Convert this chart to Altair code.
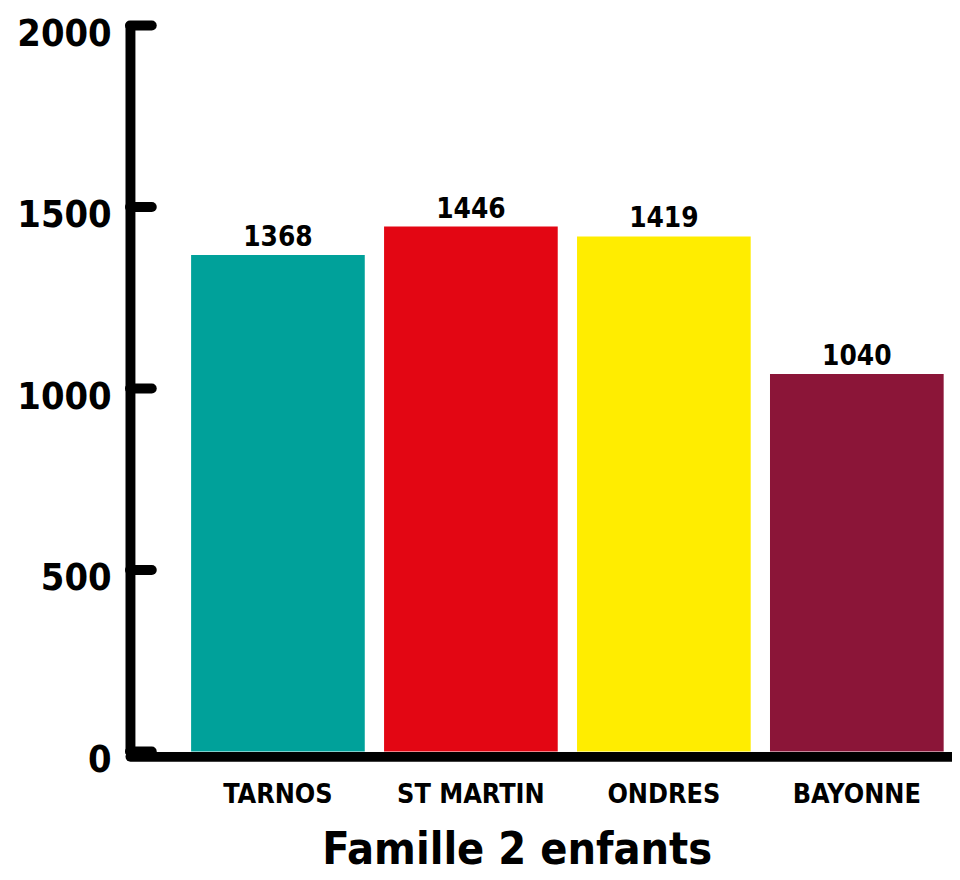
import altair as alt
import pandas as pd

villes = ["TARNOS", "ST MARTIN", "ONDRES", "BAYONNE"]
valeurs = [1368, 1446, 1419, 1040]
couleurs = ["#00A19A", "#E30613", "#FFED00", "#8B1538"]
y_ticks = [0, 500, 1000, 1500, 2000]
titre = "Famille 2 enfants"

FONT = "DejaVu Sans Condensed, Liberation Sans Narrow, sans-serif"

df = pd.DataFrame({"ville": villes, "valeur": valeurs})
df_ticks = pd.DataFrame({"t": y_ticks})

yscale = alt.Scale(domain=[0, 2000])

x_enc = alt.X(
    "ville:N",
    sort=villes,
    scale=alt.Scale(paddingInner=0.1, paddingOuter=0.18, align=0.88),
    axis=alt.Axis(
        ticks=False, domainWidth=10, domainColor="black", domainCap="round",
        offset=5, labelAngle=0, labelFont=FONT, labelFontSize=27,
        labelFontWeight="bold", labelColor="black", labelBaseline="alphabetic",
        labelPadding=47, title=titre, titleFont=FONT, titleFontSize=45,
        titleFontWeight="bold", titleColor="black", titleX=390, titleY=108,
        titleBaseline="alphabetic", titleAlign="center",
    ),
)

y_enc = alt.Y(
    "valeur:Q",
    scale=yscale,
    axis=alt.Axis(
        values=y_ticks, format="d", ticks=False, grid=False, domainWidth=10,
        domainColor="black", domainCap="round", labelFont=FONT,
        labelFontSize=38, labelFontWeight="bold", labelColor="black",
        labelPadding=19, labelBaseline="alphabetic", labelOffset=20, title=None,
    ),
)

bars = alt.Chart(df).mark_bar().encode(
    x=x_enc,
    y=y_enc,
    color=alt.Color("ville:N", scale=alt.Scale(domain=villes, range=couleurs), legend=None),
)

labels = alt.Chart(df).mark_text(
    baseline="alphabetic", dy=-9, font=FONT, fontSize=28, fontWeight="bold", color="black"
).encode(
    x=alt.X("ville:N", sort=villes),
    y=alt.Y("valeur:Q"),
    text=alt.Text("valeur:Q", format="d"),
)

ticks = alt.Chart(df_ticks).mark_rule(
    strokeWidth=10, strokeCap="round", color="black"
).encode(
    y=alt.Y("t:Q", scale=yscale),
    x=alt.value(0),
    x2=alt.value(22),
)

chart = alt.layer(bars, labels, ticks).properties(
    width=829,
    height=732,
    autosize=alt.AutoSizeParams(type="none"),
    padding={"left": 123, "top": 14, "right": 0, "bottom": 126},
).configure_view(stroke=None)

chart.save("out.html", embed_options={"renderer": "svg", "actions": False})
